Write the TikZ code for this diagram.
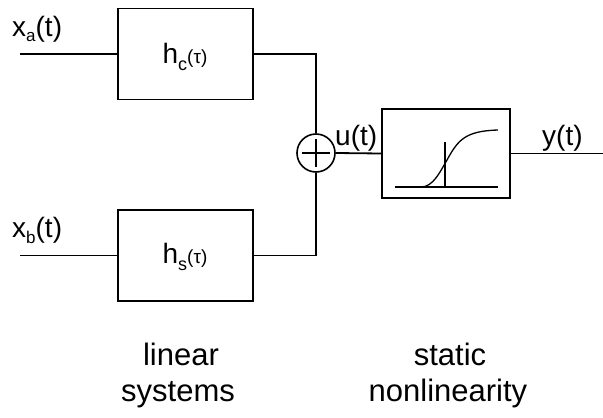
\documentclass[tikz,border=0pt]{standalone}
\usepackage{fontspec}
\setmainfont{Liberation Sans}
\begin{document}
\begin{tikzpicture}[x=1pt,y=-1pt,
  wire/.style={line width=1.8pt},
  box/.style={draw, line width=1.8pt, inner sep=0pt, minimum width=135pt, minimum height=91pt},
  nlbox/.style={draw, line width=1.8pt, inner sep=0pt, minimum width=128pt, minimum height=89pt},
  sumnode/.style={draw, circle, line width=1.6pt, inner sep=0pt, minimum size=38pt},
  lbl/.style={anchor=base west, inner sep=0pt, font=\fontsize{28}{30}\selectfont},
  hlbl/.style={anchor=base, inner sep=0pt, font=\fontsize{28}{30}\selectfont},
  captext/.style={anchor=base, inner sep=0pt, font=\fontsize{31}{33}\selectfont}]
\useasboundingbox (0,0) rectangle (603,418);
% blocks
\node[box] (hc) at (185.5,54) {};
\node[box] (hs) at (185.5,255.5) {};
\node[sumnode] (sum) at (316,153) {};
\node[nlbox] (nl) at (446,153.5) {};
% free ends
\coordinate (xa) at (20,54);
\coordinate (xb) at (20,255.5);
\coordinate (yout) at (603,153.5);
% connectors
\draw[wire] (xa) -- (hc.west);
\draw[wire] (xb) -- (hs.west);
\draw[wire] (hc.east) -| (sum.north);
\draw[wire] (hs.east) -| (sum.south);
\draw[wire] (sum.east) -- (nl.west);
\draw[wire] (nl.east) -- (yout);
% plus sign
\draw[line width=1.6pt] ([xshift=-14pt]sum.center) -- ([xshift=14pt]sum.center);
\draw[line width=1.6pt] ([yshift=-14pt]sum.center) -- ([yshift=14pt]sum.center);
% sigmoid
\coordinate (b0) at (395,187);
\coordinate (b1) at (498,187);
\coordinate (v0) at (445,142);
\coordinate (v1) at (445,187);
\coordinate (s0) at (421,187);
\coordinate (s1) at (447,160);
\coordinate (s2) at (498,130);
\draw[line width=1.3pt] (b0) -- (b1);
\draw[line width=1.3pt] (v0) -- (v1);
\draw[line width=1.3pt] (s0) .. controls (433,187) and (440,172) .. (s1) .. controls (458,140) and (465,131) .. (s2);
% labels
\node[lbl] (la) at (12,36) {x\raisebox{-5pt}{\fontsize{17}{17}\selectfont a}(t)};
\node[lbl] (lb) at (12,237) {x\raisebox{-6pt}{\fontsize{17}{17}\selectfont b}(t)};
\node[hlbl] (lhc) at (185,63) {h\raisebox{-7pt}{\fontsize{18}{18}\selectfont c}{\fontsize{19}{19}\selectfont(τ)}};
\node[hlbl] (lhs) at (185,263) {h\raisebox{-7pt}{\fontsize{18}{18}\selectfont s}{\fontsize{19}{19}\selectfont(τ)}};
\node[lbl] (lu) at (335,145) {u(t)};
\node[lbl] (ly) at (542,145) {y(t)};
\node[captext] (c1) at (181,365) {linear};
\node[captext] (c2) at (178,401) {systems};
\node[captext] (c3) at (450,365) {static};
\node[captext] (c4) at (448,401) {nonlinearity};
\end{tikzpicture}
\end{document}
